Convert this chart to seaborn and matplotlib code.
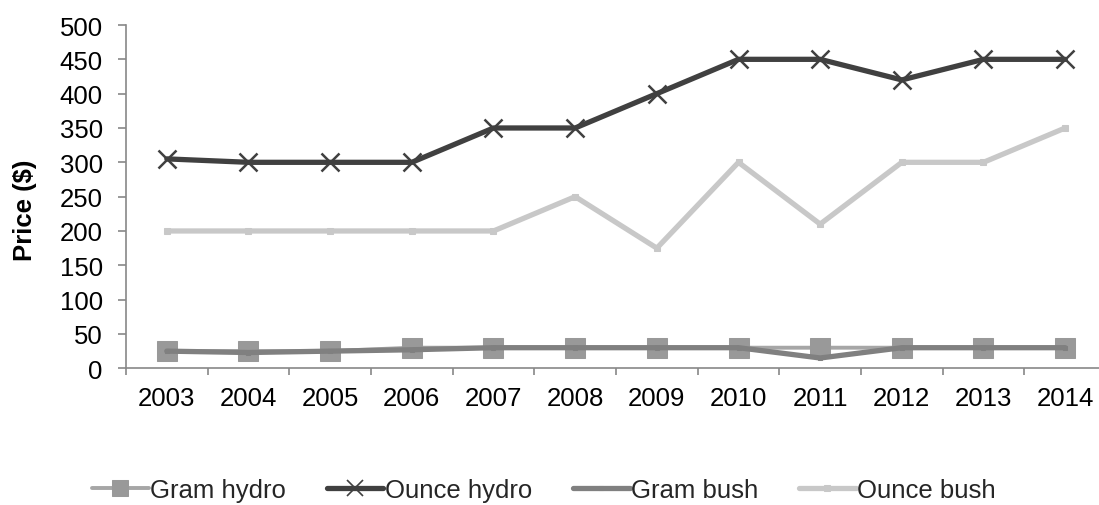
import matplotlib
matplotlib.use("Agg")
import matplotlib.pyplot as plt
from matplotlib.ticker import FixedLocator
import seaborn as sns
import pandas as pd

years = ["2003", "2004", "2005", "2006", "2007", "2008",
         "2009", "2010", "2011", "2012", "2013", "2014"]
gram_hydro = [25, 25, 25, 30, 30, 30, 30, 30, 30, 30, 30, 30]
ounce_hydro = [305, 300, 300, 300, 350, 350, 400, 450, 450, 420, 450, 450]
gram_bush = [25, 23, 25, 27, 30, 30, 30, 30, 15, 30, 30, 30]
ounce_bush = [200, 200, 200, 200, 200, 250, 175, 300, 210, 300, 300, 350]
y_ticks = [0, 50, 100, 150, 200, 250, 300, 350, 400, 450, 500]

sns.set_theme(style="white")
plt.rcParams["font.family"] = ["Liberation Sans", "DejaVu Sans"]

FS = 18.5
W, H = 1099, 506
fig = plt.figure(figsize=(W / 100, H / 100), dpi=100)
# plot area runs a little past the right edge of the figure
ax = fig.add_axes([126 / W, (H - 369.3) / H, 980 / W, 343.3 / H])

pos = list(range(len(years)))

series = [
    ("Gram hydro", gram_hydro, dict(color="#a6a6a6", lw=2.8, marker="s", ms=14,
                                    mfc="#999999", mec="#999999")),
    ("Ounce hydro", ounce_hydro, dict(color="#404040", lw=3.8, marker="x", ms=13,
                                      mew=1.8, mec="#404040")),
    ("Gram bush", gram_bush, dict(color="#808080", lw=3.8, marker="s", ms=3,
                                  mfc="#808080", mec="#808080")),
    ("Ounce bush", ounce_bush, dict(color="#c8c8c8", lw=3.8, marker="s", ms=4,
                                    mfc="#c8c8c8", mec="#c8c8c8")),
]

for name, vals, style in series:
    df = pd.DataFrame({"pos": pos, "price": vals})
    sns.lineplot(data=df, x="pos", y="price", ax=ax, label=name, **style)

ax.set_xlim(-0.5, len(years) - 0.5)
ax.set_ylim(0, 500)
ax.set_yticks(y_ticks)
ax.set_yticklabels([str(t) for t in y_ticks])

# category labels at centres, tick marks on the category boundaries
ax.set_xticks(pos)
ax.set_xticklabels(years)
ax.xaxis.set_minor_locator(FixedLocator([p - 0.5 for p in range(len(years) + 1)]))
ax.tick_params(axis="x", which="major", length=0, pad=12.5, labelsize=FS, colors="black")
ax.tick_params(axis="x", which="minor", length=5, width=1.2, color="#888888", bottom=True)
ax.tick_params(axis="y", length=5.8, width=1.2, color="#888888", left=True,
               labelsize=FS, labelcolor="black", pad=11)

for side in ["top", "right"]:
    ax.spines[side].set_visible(False)
for side in ["left", "bottom"]:
    ax.spines[side].set_color("#888888")
    ax.spines[side].set_linewidth(1.2)

ax.set_xlabel("")
ax.set_ylabel("")
ax.grid(False)
fig.text(25 / W, 1 - 210.5 / H, "Price ($)", rotation=90, ha="center", va="center",
         fontsize=FS, fontweight="bold", color="black")

leg = ax.legend(loc="center left", ncol=4, frameon=False, fontsize=FS,
                handlelength=2.2, handletextpad=0.05, columnspacing=1.6,
                borderpad=0, borderaxespad=0)
leg.set_bbox_to_anchor((92 / W, 15 / H), transform=fig.transFigure)
leg.legend_handles[0].set_markersize(11)
leg.legend_handles[1].set_markersize(11)
leg.legend_handles[1].set_markeredgewidth(1.2)

fig.savefig("out.png", dpi=100)
